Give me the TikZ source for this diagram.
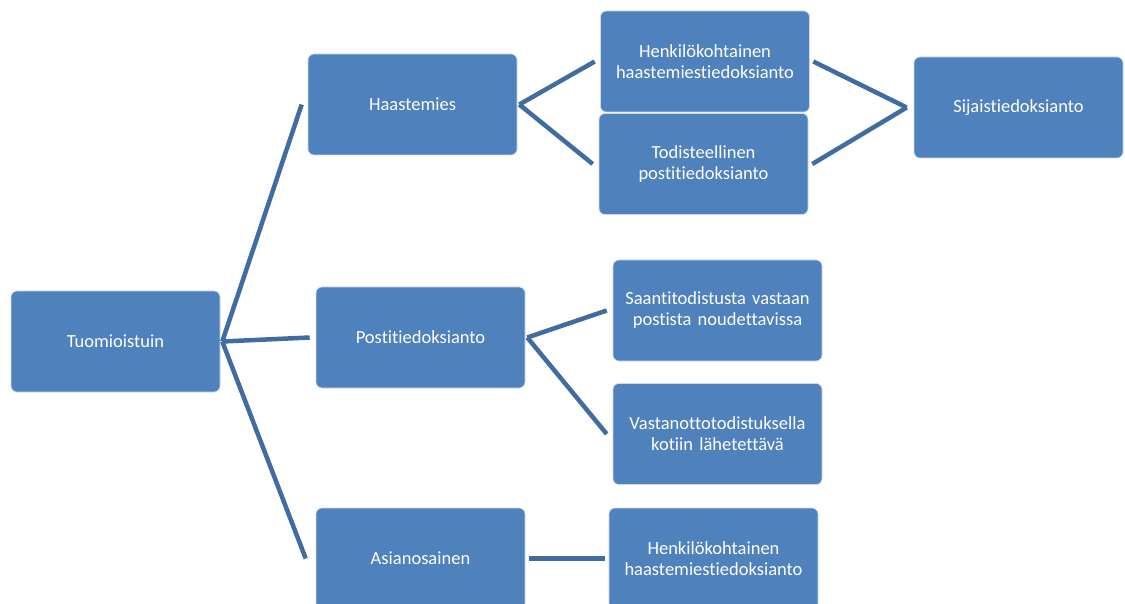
\documentclass[tikz,border=0pt]{standalone}
\usepackage{fontspec}
\setmainfont{Carlito}[Ligatures={NoCommon}]
\definecolor{boxfill}{RGB}{79,129,189}
\definecolor{boxedge}{RGB}{205,218,236}
\definecolor{linkcol}{RGB}{65,108,162}
\begin{document}
\begin{tikzpicture}[x=1pt,y=-1pt,
  box/.style={rectangle, rounded corners=6pt, fill=boxfill, draw=boxedge, line width=0.6pt,
    minimum width=209pt, minimum height=101pt, text width=200pt, align=center,
    text=white, font=\fontsize{18.5}{21}\selectfont, inner sep=0pt},
  link/.style={draw=linkcol, line width=4.5pt}]
\useasboundingbox (0,0) rectangle (1125,604);
\clip (0,0) rectangle (1125,604);
\node[box] (tuo) at (115.5,341.5) {Tuomioistuin};
\node[box] (haa) at (412.5,104.5) {Haastemies};
\node[box] (pos) at (420.5,337.5) {Postitiedoksianto};
\node[box] (asi) at (420.5,558.5) {Asianosainen};
\node[box] (hen1) at (705,61.5) {Henkilökohtainen\\haastemiestiedoksianto};
\node[box] (tod) at (703.5,164) {Todisteellinen\\postitiedoksianto};
\node[box] (sij) at (1018.5,107.5) {Sijaistiedoksianto};
\node[box] (saa) at (717.5,310.5) {Saantitodistusta vastaan\\postista noudettavissa};
\node[box] (vas) at (717.5,434) {Vastanottotodistuksella\\kotiin lähetettävä};
\node[box] (hen2) at (713.5,558.5) {Henkilökohtainen\\haastemiestiedoksianto};
% connectors
\draw[link] ([xshift=2pt]tuo.east) -- ([xshift=-6pt]haa.west);
\draw[link] ([xshift=2pt]tuo.east) -- ([xshift=-6pt]pos.west);
\draw[link] ([xshift=2pt]tuo.east) -- ([xshift=-10pt]asi.west);
\draw[link] ([xshift=2pt]haa.east) -- ([xshift=-5.5pt]hen1.west);
\draw[link] ([xshift=2pt]haa.east) -- ([xshift=-6pt]tod.west);
\draw[link] ([xshift=3.5pt]hen1.east) -- ([xshift=-7pt]sij.west);
\draw[link] ([xshift=4pt]tod.east) -- ([xshift=-7pt]sij.west);
\draw[link] ([xshift=2pt]pos.east) -- ([xshift=-6pt]saa.west);
\draw[link] ([xshift=2pt]pos.east) -- ([xshift=-6pt]vas.west);
\draw[link] ([xshift=4pt]asi.east) -- ([xshift=-4pt]hen2.west);
\end{tikzpicture}
\end{document}
